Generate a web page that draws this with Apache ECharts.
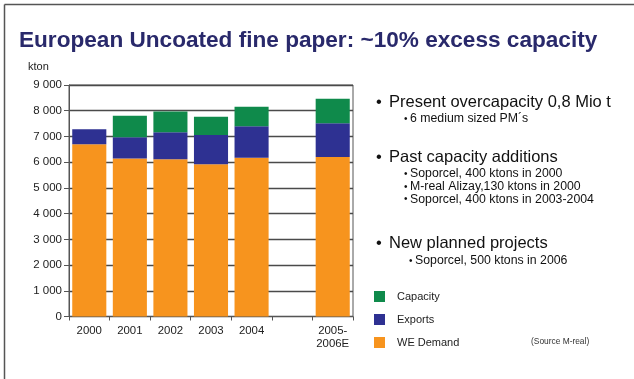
<!DOCTYPE html>
<html>
<head>
<meta charset="utf-8">
<style>
html,body{margin:0;padding:0;background:#fff;}
#chart{width:634px;height:379px;}
</style>
<script src="https://cdn.jsdelivr.net/npm/echarts@6/dist/echarts.min.js"></script>
</head>
<body>
<div id="chart"></div>
<script>
var categories = ['2000', '2001', '2002', '2003', '2004', '', '2005-\n2006E'];
var weDemand = [6700, 6140, 6110, 5920, 6170, null, 6200];
var exportsVals = [580, 830, 1050, 1140, 1230, null, 1310];
var capacity = [0, 830, 810, 710, 750, null, 960];
var yTicks = [0, 1000, 2000, 3000, 4000, 5000, 6000, 7000, 8000, 9000];

var FONT = '"Liberation Sans", Arial, sans-serif';
var chart = echarts.init(document.getElementById('chart'), null, {renderer: 'canvas'});

function tickLabel(v) {
  var s = String(v);
  if (s.length > 3) s = s.slice(0, s.length - 3) + ' ' + s.slice(s.length - 3);
  return s;
}

var bullets = [
  {t: '•', x: 376, y: 102, s: 16.5},
  {t: 'Present overcapacity 0,8 Mio t', x: 389, y: 102, s: 16.5},
  {t: '•', x: 404, y: 119, s: 10},
  {t: '6 medium sized PM´s', x: 410, y: 119, s: 12.3},
  {t: '•', x: 376, y: 157, s: 16.5},
  {t: 'Past capacity additions', x: 389, y: 157, s: 16.5},
  {t: '•', x: 404, y: 174, s: 10},
  {t: 'Soporcel, 400 ktons in 2000', x: 410, y: 174, s: 12.3},
  {t: '•', x: 404, y: 187, s: 10},
  {t: 'M-real Alizay,130 ktons in 2000', x: 410, y: 187, s: 12.3},
  {t: '•', x: 404, y: 199.5, s: 10},
  {t: 'Soporcel, 400 ktons in 2003-2004', x: 410, y: 199.5, s: 12.3},
  {t: '•', x: 376, y: 243.5, s: 16.5},
  {t: 'New planned projects', x: 389, y: 243.5, s: 16.5},
  {t: '•', x: 409, y: 261, s: 10},
  {t: 'Soporcel, 500 ktons in 2006', x: 415, y: 261, s: 12.3}
];

var graphics = [
  {type: 'line', shape: {x1: 4.5, y1: 4.5, x2: 634, y2: 4.5}, style: {stroke: '#555', lineWidth: 1.5}},
  {type: 'line', shape: {x1: 4.5, y1: 4.5, x2: 4.5, y2: 379}, style: {stroke: '#555', lineWidth: 1.5}},
  {type: 'text', left: 19, top: 29, style: {text: 'European Uncoated fine paper: ~10% excess capacity', font: 'bold 22.6px ' + FONT, fill: '#29296b'}},
  {type: 'text', left: 28, top: 61, style: {text: 'kton', font: '11px ' + FONT, fill: '#222'}},
  {type: 'text', left: 531, top: 338, style: {text: '(Source M-real)', font: '8.4px ' + FONT, fill: '#333'}}
];
bullets.forEach(function (b) {
  graphics.push({type: 'text', x: b.x, y: b.y, style: {text: b.t, font: b.s + 'px ' + FONT, fill: '#111', textVerticalAlign: 'middle', verticalAlign: 'middle'}});
});

var option = {
  backgroundColor: '#fff',
  animation: false,
  textStyle: {fontFamily: FONT},
  grid: {left: 69, right: 281, top: 85, bottom: 62.5, show: true, borderColor: '#555', borderWidth: 1, backgroundColor: 'transparent'},
  legend: {
    orient: 'vertical',
    left: 369,
    top: 286,
    itemWidth: 11,
    itemHeight: 11,
    itemGap: 12,
    icon: 'rect',
    data: ['Capacity', 'Exports', 'WE Demand'],
    textStyle: {fontSize: 11, color: '#222', padding: [0, 0, 0, 7]}
  },
  xAxis: {
    type: 'category',
    data: categories,
    axisLine: {lineStyle: {color: '#555', width: 1}},
    axisTick: {show: true, length: 4, lineStyle: {color: '#555'}},
    axisLabel: {color: '#222', fontSize: 11.4, margin: 8, interval: 0, lineHeight: 13}
  },
  yAxis: {
    type: 'value',
    min: 0,
    max: 9000,
    interval: 1000,
    axisLine: {show: true, lineStyle: {color: '#555', width: 1}},
    axisTick: {show: true, length: 5, lineStyle: {color: '#555'}},
    axisLabel: {color: '#222', fontSize: 11.5, margin: 7, formatter: tickLabel},
    splitLine: {show: true, lineStyle: {color: '#4a4a4a', width: 1.3}}
  },
  series: [
    {name: 'WE Demand', type: 'bar', stack: 't', data: weDemand, barCategoryGap: '16%', itemStyle: {color: '#f7941e'}},
    {name: 'Exports', type: 'bar', stack: 't', data: exportsVals, itemStyle: {color: '#2e3192'}},
    {name: 'Capacity', type: 'bar', stack: 't', data: capacity, itemStyle: {color: '#0f8a4b'}}
  ],
  graphic: graphics
};
chart.setOption(option);
</script>
</body>
</html>
